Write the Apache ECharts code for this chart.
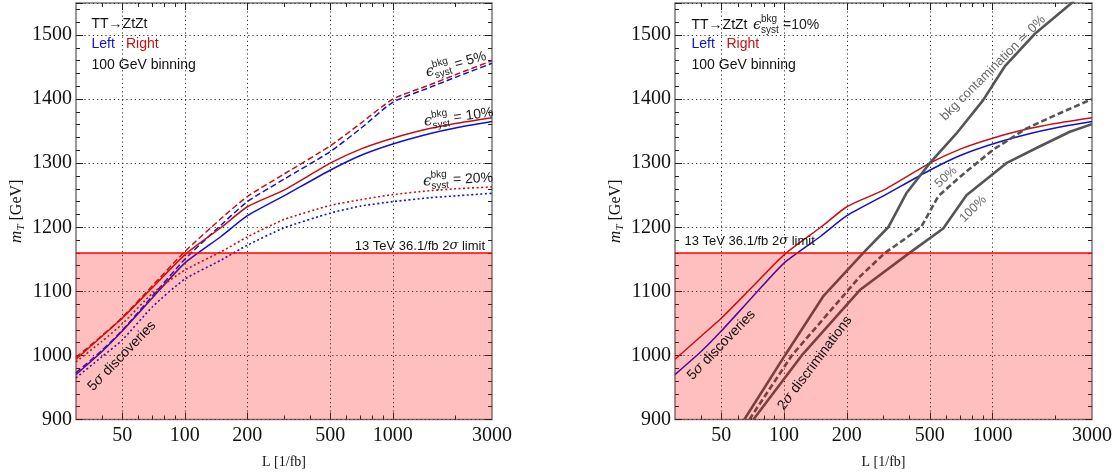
<!DOCTYPE html>
<html><head><meta charset="utf-8">
<script src="https://cdn.jsdelivr.net/npm/echarts@6/dist/echarts.min.js"></script>
<style>html,body{margin:0;padding:0;background:#fff}#c{width:1117px;height:475px}</style>
</head><body><div id="c"></div>
<script>
// ---------- data ----------
const L_GRID = [30, 40, 50, 70, 100, 150, 200, 300, 500, 700, 1000, 1500, 2000, 3000];
const RIGHT_10 = [994, 1030, 1058, 1106, 1157, 1200, 1232, 1258, 1300, 1322, 1339, 1354, 1362, 1371];
const LEFT_10  = [970, 1006, 1038, 1090, 1144, 1186, 1218, 1249, 1289, 1312, 1330, 1346, 1355, 1365];
const RIGHT_5  = [997, 1031, 1059, 1109, 1162, 1214, 1248, 1283, 1327, 1362, 1400, 1422, 1438, 1460];
const LEFT_5   = [973, 1008, 1039, 1093, 1150, 1204, 1240, 1275, 1318, 1354, 1395, 1418, 1434, 1456];
const RIGHT_20 = [990, 1022, 1049, 1097, 1133, 1162, 1185, 1212, 1234, 1243, 1251, 1257, 1260, 1263];
const LEFT_20  = [965, 998, 1024, 1076, 1119, 1149, 1172, 1199, 1222, 1233, 1240, 1246, 1249, 1253];

const DISC0_L   = [64.5, 101, 154, 240, 316, 386, 500, 670, 900, 1144, 1597, 2437, 3000];
const DISC0_M   = [900, 1000, 1092, 1160, 1200, 1253, 1300, 1346, 1398, 1451, 1502, 1552, 1585];
const DISC50_L  = [68.2, 109, 231, 305, 373, 456, 548, 700, 1006, 1452, 2100, 3000];
const DISC50_M  = [900, 1000, 1123, 1160, 1180, 1201, 1248, 1279, 1321, 1354, 1378, 1400];
const DISC100_L = [71.3, 121.6, 231, 400, 580, 750, 1165, 1680, 2350, 3000];
const DISC100_M = [900, 1000, 1102, 1160, 1198, 1250, 1300, 1326, 1349, 1361];

const LIMIT = 1160;
const LIMIT_L = [30, 3000];
const X_LABELS = [50, 100, 200, 500, 1000, 3000];
const X_MAJOR = [50, 100, 200, 500, 1000];
const X_MINOR = [40, 60, 70, 80, 90, 300, 400, 600, 700, 800, 900, 2000];
const Y_LABELS = [900, 1000, 1100, 1200, 1300, 1400, 1500];

// ---------- style ----------
const SANS = "'Liberation Sans', Arial, sans-serif";
const SERIF = "'Liberation Serif', 'Times New Roman', serif";
const RED = '#c01212', BLUE = '#1212c8', GRAY = '#555555';

function pairs(xs, ys) { return xs.map((x, i) => [x, ys[i]]); }

function xAxes(gi) {
  const base = {type: 'log', logBase: 10, min: 30, max: 3000, gridIndex: gi,
    axisLine: {show: false}, minorTick: {show: false}, minorSplitLine: {show: false}};
  const tick = (len, vals) => ({show: true, inside: true, length: len, customValues: vals,
    lineStyle: {color: '#222', width: 1}});
  return [
    Object.assign({}, base, {position: 'bottom', axisTick: tick(7, X_MAJOR),
      axisLabel: {customValues: X_LABELS, formatter: v => String(v), fontFamily: SERIF,
        fontSize: 20, color: '#111', margin: 6},
      splitLine: {show: true, lineStyle: {type: [1.2, 3], color: '#333', width: 1}},
      name: 'L [1/fb]', nameLocation: 'middle', nameGap: 36,
      nameTextStyle: {fontFamily: SERIF, fontSize: 14, color: '#111'}}),
    Object.assign({}, base, {position: 'bottom', axisTick: tick(4, X_MINOR),
      axisLabel: {show: false}, splitLine: {show: false}}),
    Object.assign({}, base, {position: 'top', axisTick: tick(7, X_MAJOR),
      axisLabel: {show: false}, splitLine: {show: false}}),
    Object.assign({}, base, {position: 'top', axisTick: tick(4, X_MINOR),
      axisLabel: {show: false}, splitLine: {show: false}})
  ];
}

function yAxes(gi) {
  const base = {type: 'value', min: 900, max: 1550, gridIndex: gi, axisLine: {show: false}};
  const tick = len => ({show: true, inside: true, length: len, lineStyle: {color: '#222', width: 1}});
  return [
    Object.assign({}, base, {position: 'left', interval: 100, axisTick: tick(7),
      axisLabel: {customValues: Y_LABELS, formatter: v => String(v), fontFamily: SERIF,
        fontSize: 20, color: '#111', margin: 4},
      splitLine: {show: true, lineStyle: {type: [1.2, 3], color: '#333', width: 1}},
      name: '{i|m}{s|T}{n| [GeV]}', nameLocation: 'middle', nameGap: 49,
      nameTextStyle: {color: '#111', rich: {
        i: {fontFamily: SERIF, fontStyle: 'italic', fontSize: 17, lineHeight: 20},
        s: {fontFamily: SERIF, fontStyle: 'italic', fontSize: 11, lineHeight: 20, verticalAlign: 'bottom', padding: [7, 0, 0, 0]},
        n: {fontFamily: SERIF, fontSize: 16, lineHeight: 20}
      }}}),
    Object.assign({}, base, {position: 'left', interval: 20, axisTick: tick(4),
      axisLabel: {show: false}, splitLine: {show: false}}),
    Object.assign({}, base, {position: 'right', interval: 100, axisTick: tick(7),
      axisLabel: {show: false}, splitLine: {show: false}}),
    Object.assign({}, base, {position: 'right', interval: 20, axisTick: tick(4),
      axisLabel: {show: false}, splitLine: {show: false}})
  ];
}

function line(name, xs, ys, color, type, width, axis, smooth) {
  return {name, type: 'line', xAxisIndex: axis, yAxisIndex: axis, data: pairs(xs, ys),
    showSymbol: false, symbol: 'none', smooth: smooth || false, z: 2,
    lineStyle: {color, type, width}, emphasis: {disabled: true}, animation: false};
}
function limitSeries(axis) {
  return {type: 'line', xAxisIndex: axis, yAxisIndex: axis,
    data: LIMIT_L.map(x => [x, LIMIT]), showSymbol: false, symbol: 'none', z: 4,
    lineStyle: {color: '#ff0000', width: 1.5},
    areaStyle: {origin: 'start', color: 'rgba(255,0,0,0.25)', opacity: 1}, animation: false};
}

// ---------- annotations ----------
function txt(x, y, text, o) {
  o = o || {};
  return {type: 'text', x, y, rotation: (o.rot || 0) * Math.PI / 180, z: 100,
    style: {text, fill: o.color || '#111', fontFamily: o.family || SANS,
      fontSize: o.size || 14, fontStyle: o.style || 'normal',
      align: o.align || 'left', verticalAlign: 'middle', rich: o.rich}};
}
function eps(x, y, rot, tail, tailX, size) {
  const c = (xx, yy, t, fs) => ({type: 'text', x: xx, y: yy, z: 100,
    style: {text: t, fill: '#222', fontFamily: SANS, fontSize: fs, align: 'left', verticalAlign: 'middle'}});
  return {type: 'group', x, y, rotation: rot * Math.PI / 180, z: 100, children: [
    {type: 'text', x: 0, y: 0, z: 100, style: {text: 'ϵ', fill: '#222', fontFamily: "'DejaVu Serif', serif",
      fontStyle: 'italic', fontSize: size + 1, align: 'left', verticalAlign: 'middle'}},
    c(8, -6, 'bkg', 10),
    c(8, 5, 'syst', 10),
    c(tailX, 0, tail, size)
  ]};
}
const sigRich = {
  n: {fontFamily: SANS, fontSize: 14, color: '#111'},
  g: {fontFamily: "'DejaVu Serif', serif", fontStyle: 'italic', fontSize: 14, color: '#111'}
};
const sigRich13 = {
  n: {fontFamily: SANS, fontSize: 13, color: '#111'},
  g: {fontFamily: "'DejaVu Serif', serif", fontStyle: 'italic', fontSize: 13, color: '#111'}
};

const graphics = [
  // left panel
  txt(91.5, 24, 'TT→ZtZt'),
  txt(91.5, 44.5, 'Left', {color: BLUE}),
  txt(126, 44.5, 'Right', {color: RED}),
  txt(91.5, 65, '100 GeV binning'),
  eps(426, 73, 16, '= 5%', 30, 14),
  eps(424, 122, 8, '= 10%', 30, 14),
  eps(423, 181.5, 3, '= 20%', 30, 14),
  txt(485, 246, '{n|13 TeV 36.1/fb 2}{g|σ}{n| limit}', {align: 'right', rich: sigRich13}),
  txt(122, 356, '{n|5}{g|σ}{n| discoveries}', {rot: 46, align: 'center', rich: sigRich}),
  // right panel
  txt(691.5, 25, 'TT→ZtZt'),
  eps(753, 25, 0, '=10%', 30, 14),
  txt(691.5, 44.5, 'Left', {color: BLUE}),
  txt(726.5, 44.5, 'Right', {color: RED}),
  txt(691.5, 65, '100 GeV binning'),
  txt(684.5, 241, '{n|13 TeV 36.1/fb 2}{g|σ}{n| limit}', {rich: sigRich13}),
  txt(721.5, 345, '{n|5}{g|σ}{n| discoveries}', {rot: 46, align: 'center', rich: sigRich}),
  txt(815, 363, '{n|2}{g|σ}{n| discriminations}', {rot: 53, align: 'center', rich: sigRich}),
  txt(993, 68, 'bkg contamination ≃ 0%', {rot: 45, align: 'center', size: 13, color: '#6a6a6a'}),
  txt(946, 177, '50%', {rot: 42, align: 'center', size: 12.5, color: '#6a6a6a'}),
  txt(973, 209, '100%', {rot: 45, align: 'center', size: 12.5, color: '#6a6a6a'})
];

const option = {
  animation: false,
  backgroundColor: '#fff',
  grid: [
    {left: 76, top: 3, width: 416, height: 416.5, show: true, borderColor: '#777', borderWidth: 1.5, backgroundColor: 'transparent'},
    {left: 675, top: 3, width: 417, height: 416.5, show: true, borderColor: '#777', borderWidth: 1.5, backgroundColor: 'transparent'}
  ],
  xAxis: xAxes(0).concat(xAxes(1)),
  yAxis: yAxes(0).concat(yAxes(1)),
  series: [
    line('R5', L_GRID, RIGHT_5, RED, [6, 3], 1.5, 0, 0.2),
    line('L5', L_GRID, LEFT_5, BLUE, [6, 3], 1.5, 0, 0.2),
    line('R10', L_GRID, RIGHT_10, RED, 'solid', 1.5, 0, 0.2),
    line('L10', L_GRID, LEFT_10, BLUE, 'solid', 1.5, 0, 0.2),
    line('R20', L_GRID, RIGHT_20, RED, [2, 2.5], 1.6, 0, 0.2),
    line('L20', L_GRID, LEFT_20, BLUE, [2, 2.5], 1.6, 0, 0.2),
    limitSeries(0),
    line('R10b', L_GRID, RIGHT_10, RED, 'solid', 1.5, 4, 0.2),
    line('L10b', L_GRID, LEFT_10, BLUE, 'solid', 1.5, 4, 0.2),
    line('D0', DISC0_L, DISC0_M, GRAY, 'solid', 2.6, 4, false),
    line('D50', DISC50_L, DISC50_M, GRAY, [6, 3], 2.6, 4, false),
    line('D100', DISC100_L, DISC100_M, GRAY, 'solid', 2.6, 4, false),
    limitSeries(4)
  ],
  graphic: graphics
};

const chart = echarts.init(document.getElementById('c'), null, {renderer: 'canvas'});
chart.setOption(option);
</script>
</body></html>
